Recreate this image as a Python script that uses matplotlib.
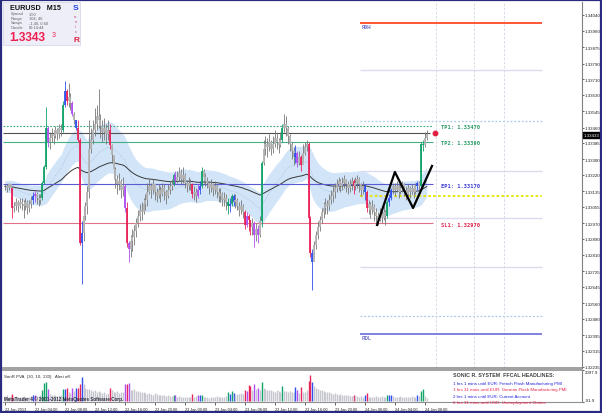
import numpy as np
import pandas as pd
import matplotlib
matplotlib.use("Agg")
import matplotlib.pyplot as plt
from matplotlib.patches import Rectangle

# EURUSD M15, prices in pips above 1.32000 (one bar per 15 minutes, 22 Jan 00:00 onwards)
close_pips = [
    116, 115, 117, 115, 105, 106, 108, 106, 108, 107,
    106, 108, 105, 107, 109, 111, 112, 110, 109, 110,
    118, 126, 146, 139, 141, 143, 142, 145, 143, 146,
    145, 158, 165, 160, 162, 159, 153, 150, 146, 140,
    87, 92, 101, 106, 113, 135, 140, 145, 148, 152,
    150, 147, 144, 146, 143, 145, 137, 132, 125, 120,
    117, 119, 114, 116, 105, 87, 84, 88, 90, 93,
    97, 101, 104, 103, 107, 109, 113, 116, 114, 117,
    113, 111, 114, 112, 115, 113, 111, 114, 116, 117,
    122, 119, 121, 123, 120, 122, 118, 116, 118, 117,
    112, 113, 111, 114, 116, 124, 121, 119, 118, 115,
    117, 114, 116, 113, 111, 112, 109, 110, 108, 106,
    107, 111, 108, 109, 106, 104, 106, 103, 96, 101,
    99, 95, 97, 91, 94, 91, 98, 128, 135, 138,
    136, 139, 135, 138, 141, 139, 137, 140, 146, 148,
    146, 142, 138, 134, 131, 133, 128, 131, 127, 133,
    136, 138, 100, 82, 77, 86, 91, 95, 99, 103,
    105, 107, 106, 109, 111, 113, 115, 117, 119, 116,
    118, 120, 117, 115, 117, 119, 116, 118, 120, 117,
    114, 116, 113, 105, 107, 104, 106, 103, 101, 99,
    102, 100, 103, 101, 108, 110, 114, 116, 114, 116,
    113, 115, 117, 114, 112, 115, 113, 115, 113, 116,
    118, 116, 138, 137, 141, 143,
]
high_pips = [
    117, 117, 118, 117, 115, 108, 110, 109, 110, 110,
    109, 110, 109, 109, 111, 113, 114, 113, 112, 112,
    119, 127, 157, 147, 144, 146, 145, 147, 146, 148,
    148, 160, 170, 166, 169, 164, 160, 154, 150, 150,
    141, 98, 105, 108, 116, 150, 146, 150, 156, 158,
    166, 153, 150, 151, 148, 150, 148, 138, 131, 126,
    122, 123, 120, 121, 117, 108, 88, 91, 94, 96,
    100, 104, 107, 108, 110, 112, 118, 120, 118, 120,
    117, 115, 117, 116, 118, 117, 114, 117, 119, 120,
    123, 124, 124, 126, 125, 126, 123, 119, 121, 120,
    118, 116, 115, 117, 119, 126, 125, 123, 121, 119,
    120, 118, 119, 117, 115, 115, 113, 113, 112, 110,
    110, 112, 112, 112, 110, 108, 109, 107, 104, 103,
    102, 99, 100, 98, 97, 96, 101, 129, 140, 142,
    141, 143, 140, 142, 145, 143, 141, 144, 148, 153,
    152, 147, 143, 139, 136, 137, 134, 134, 132, 138,
    139, 140, 139, 101, 84, 88, 93, 98, 101, 105,
    108, 110, 109, 112, 114, 116, 118, 120, 121, 120,
    121, 122, 120, 119, 120, 121, 120, 121, 122, 121,
    118, 119, 117, 114, 109, 108, 109, 107, 105, 103,
    105, 104, 106, 104, 109, 112, 115, 118, 118, 119,
    117, 118, 119, 118, 116, 117, 116, 117, 116, 118,
    119, 119, 139, 140, 144, 145,
]
low_pips = [
    114, 113, 114, 113, 100, 103, 104, 103, 105, 104,
    100, 104, 102, 103, 105, 107, 108, 107, 106, 107,
    109, 117, 125, 136, 135, 139, 138, 141, 140, 141,
    142, 144, 157, 158, 157, 155, 152, 148, 145, 139,
    86, 66, 88, 99, 102, 110, 133, 138, 142, 145,
    146, 141, 139, 140, 138, 140, 135, 128, 120, 115,
    112, 114, 110, 111, 103, 85, 77, 80, 83, 86,
    90, 95, 98, 99, 102, 104, 106, 112, 110, 112,
    109, 108, 110, 108, 111, 109, 107, 110, 112, 114,
    116, 117, 118, 119, 117, 118, 115, 113, 114, 114,
    110, 109, 108, 110, 112, 115, 118, 116, 115, 112,
    113, 111, 112, 110, 108, 108, 106, 106, 104, 102,
    103, 106, 106, 105, 104, 101, 102, 100, 94, 95,
    93, 91, 91, 85, 88, 87, 90, 95, 127, 132,
    131, 134, 132, 133, 136, 135, 133, 136, 139, 144,
    142, 138, 134, 130, 127, 128, 126, 127, 124, 130,
    132, 134, 99, 80, 63, 79, 84, 89, 93, 97,
    100, 102, 102, 104, 107, 108, 110, 113, 114, 113,
    114, 115, 113, 112, 113, 114, 112, 114, 115, 113,
    111, 112, 109, 103, 102, 100, 102, 98, 97, 96,
    98, 97, 99, 96, 100, 106, 109, 112, 111, 113,
    110, 112, 113, 111, 109, 111, 110, 112, 110, 112,
    114, 114, 115, 134, 136, 140,
]
volumes = [
    350, 420, 280, 350, 480, 260, 300, 220, 280, 240,
    300, 260, 220, 280, 300, 420, 420, 320, 300, 360,
    750, 1230, 1250, 820, 450, 400, 380, 420, 350, 400,
    380, 800, 820, 900, 600, 550, 850, 650, 880, 900,
    1150, 1650, 1150, 900, 780, 820, 700, 640, 720, 600,
    680, 560, 520, 600, 480, 520, 900, 700, 620, 580,
    650, 540, 600, 560, 1150, 1150, 1230, 760, 700, 820,
    640, 680, 600, 560, 620, 520, 480, 540, 460, 420,
    500, 440, 400, 380, 420, 360, 340, 380, 320, 300,
    380, 360, 280, 300, 260, 280, 240, 260, 220, 240,
    480, 260, 300, 380, 400, 420, 220, 260, 240, 200,
    280, 220, 260, 300, 240, 280, 220, 260, 300, 600,
    480, 680, 550, 420, 480, 440, 500, 460, 700, 650,
    1070, 1000, 700, 1150, 800, 900, 760, 1280, 900, 820,
    760, 700, 740, 680, 620, 700, 640, 600, 1000, 680,
    640, 600, 660, 560, 600, 940, 700, 540, 950, 620,
    580, 700, 1350, 1750, 1300, 1000, 900, 820, 760, 700,
    640, 600, 560, 620, 520, 480, 500, 440, 420, 460,
    400, 380, 360, 400, 340, 320, 400, 300, 340, 280,
    300, 260, 360, 520, 280, 240, 260, 240, 300, 280,
    260, 300, 240, 280, 420, 400, 420, 300, 260, 280,
    240, 300, 260, 280, 240, 260, 280, 300, 260, 280,
    420, 300, 680, 780, 300, 200,
]
# PVA colouring of bars (n=green climax up, r=red climax down, b=blue, p=violet)
pva_marks = {4: 'r', 15: 'b', 16: 'p', 20: 'n', 21: 'n', 22: 'n', 23: 'p', 31: 'n', 32: 'b',
             33: 'r', 36: 'p', 38: 'b', 39: 'r', 40: 'r', 41: 'b', 56: 'r', 64: 'p', 65: 'r',
             66: 'p', 90: 'n', 91: 'p', 100: 'r', 103: 'p', 104: 'b', 105: 'n', 119: 'n',
             120: 'b', 121: 'n', 122: 'b', 128: 'r', 129: 'p', 130: 'r', 131: 'r', 133: 'p',
             135: 'p', 137: 'n', 148: 'n', 155: 'b', 156: 'p', 158: 'r', 162: 'r', 163: 'r',
             164: 'b', 186: 'r', 192: 'b', 193: 'r', 204: 'n', 205: 'b', 206: 'b', 220: 'b',
             222: 'n', 223: 'n'}

time_labels = ["22 Jan 2013", "22 Jan 04:00", "22 Jan 08:00", "22 Jan 12:00", "22 Jan 16:00",
               "22 Jan 20:00", "23 Jan 00:00", "23 Jan 04:00", "23 Jan 08:00", "23 Jan 12:00",
               "23 Jan 16:00", "23 Jan 20:00", "24 Jan 00:00", "24 Jan 04:00", "24 Jan 08:00"]
price_ticks = [1.34040, 1.33960, 1.33875, 1.33790, 1.33710, 1.33630, 1.33545, 1.33460,
               1.33385, 1.33300, 1.33220, 1.33135, 1.33055, 1.32970, 1.32890, 1.32810,
               1.32725, 1.32645, 1.32560, 1.32480, 1.32395, 1.32315, 1.32235]

# trade levels
tp1, tp2, ep1, sl1 = 1.33470, 1.33390, 1.33170, 1.32970
bid = 1.33433
yellow_level = 1.33110
# daily pivot style levels on the right side
r0h = 1.33999
rdl = 1.32402
faint_levels = [1.33758, 1.33239, 1.32998, 1.32746]
dotted_levels = [1.33496, 1.32495]
event_bars = [230, 250, 266]
# drawn zigzag pattern (bar index, price)
zig_bars = [198.5, 208, 217.7, 227.8]
zig_prices = [1.32962, 1.33234, 1.33049, 1.33265]

headlines = [("1 hrs 1 mins until EUR: French Flash Manufacturing PMI", "#2020e0"),
             ("1 hrs 31 mins until EUR: German Flash Manufacturing PMI", "#e8204a"),
             ("2 hrs 1 mins until EUR: Current Account", "#2020e0"),
             ("6 hrs 31 mins until USD: Unemployment Claims", "#e8204a")]

pva_colors = {'g': '#b4b4b4', 'r': '#e8245a', 'n': '#12a46a', 'b': '#3050f0', 'p': '#b050f0'}

close = 1.32 + np.array(close_pips) / 10000
high = 1.32 + np.array(high_pips) / 10000
low = 1.32 + np.array(low_pips) / 10000
opens = np.concatenate([[close[0]], close[:-1]])
idx = np.arange(len(close))
codes = [pva_marks.get(i, 'g') for i in idx]
body_cols = [pva_colors[c] for c in codes]
wick_cols = ['#767676' if c == 'g' else pva_colors[c] for c in codes]
vol_cols = ['#c6c6d0' if c == 'g' else pva_colors[c] for c in codes]

# Sonic R dragon band and trend line
ema34 = pd.Series(close).ewm(span=34, adjust=False).mean()
emaH = pd.Series(high).ewm(span=34, adjust=False).mean()
emaL = pd.Series(low).ewm(span=34, adjust=False).mean()
ema89 = pd.Series(close).ewm(span=89, adjust=False).mean()
half = emaH - emaL

W, H = 602, 414
fig = plt.figure(figsize=(W / 100, H / 100), dpi=100)
fig.patch.set_facecolor('white')
sans = 'Liberation Sans'

def fx(x):
    return x / W

def fy(y):
    return 1 - y / H

ax = fig.add_axes([fx(3), fy(369), fx(579), 366 / H])
ax2 = fig.add_axes([fx(3), fy(403), fx(579), 32 / H])

xmin, xmax = -1, 307.8
ax.set_xlim(xmin, xmax)
ax.set_ylim(1.322277, 1.341067)

# band + moving averages
ax.fill_between(idx, ema34 - half, ema34 + half, color='#d2e5f8', lw=0, zorder=1)
ax.plot(idx, ema34, color='#9ab4d4', lw=0.5, ls=':', zorder=2)
ax.plot(idx, ema89, color='#383838', lw=0.7, zorder=2)

# trade levels across the chart
last = 228.5
ax.hlines(tp1, xmin, last, color='#30a878', lw=0.8, ls=(0, (1.5, 1.5)), zorder=3)
ax.hlines(bid, xmin, last - 1.5, color='#505050', lw=0.8, zorder=3)
ax.hlines(tp2, xmin, last, color='#46b084', lw=0.8, zorder=3)
ax.hlines(ep1, xmin, last, color='#5a5ad2', lw=0.8, zorder=3)
ax.hlines(sl1, xmin, last, color='#e07088', lw=0.8, zorder=3)

# right side pivot levels
p0, p1 = 189.5, 286.5
ax.hlines(r0h, p0, p1, color='#ff5535', lw=1.4, zorder=3)
ax.hlines(rdl, p0, p1, color='#8080e0', lw=1.4, zorder=3)
for lv in faint_levels:
    ax.hlines(lv, p0, p1, color='#dcdcf0', lw=1.0, zorder=1)
for lv in dotted_levels:
    ax.hlines(lv, p0, p1, color='#a8c8ec', lw=0.9, ls=(0, (1.5, 1.5)), zorder=1)
ax.hlines(yellow_level, p0, p1, color='#e6e600', lw=1.3, ls=(0, (1.5, 1.2)), zorder=3)
ax.text(p0 + 1, r0h - 0.00006, "R0H", color='#6a6ac8', fontsize=3.4, va='top',
        fontweight='bold', family=sans)
ax.text(p0 + 1, rdl - 0.00006, "RDL", color='#6a6ac8', fontsize=3.4, va='top',
        fontweight='bold', family=sans)

for eb in event_bars:
    ax.axvline(eb, color='#d0d6e4', lw=0.6, ls=(0, (3, 2)), zorder=1)

# candles
ax.vlines(idx, low, high, colors=wick_cols, lw=0.6, zorder=4)
ax.vlines(idx, opens, close, colors=body_cols, lw=1.3, zorder=4)

# zigzag pattern and signal dot
ax.plot(zig_bars, zig_prices, color='black', lw=1.6, zorder=5)
ax.plot([229.5], [bid], 'o', color='#e02040', ms=3.2, zorder=6)

lab_x = 232.5
mono = 'DejaVu Sans Mono'
ax.text(lab_x, tp1 - 0.00003, "TP1: 1.33470", color='#2a9a64', fontsize=3.9, family=mono,
        fontweight='bold', va='center')
ax.text(lab_x, tp2 - 0.00006, "TP2: 1.33390", color='#2a9a64', fontsize=3.9, family=mono,
        fontweight='bold', va='center')
ax.text(lab_x, ep1 - 0.00006, "EP1: 1.33170", color='#3a3ad0', fontsize=3.9, family=mono,
        fontweight='bold', va='center')
ax.text(lab_x, sl1 - 0.00008, "SL1: 1.32970", color='#e0204a', fontsize=3.9, family=mono,
        fontweight='bold', va='center')

# axes styling
for a in (ax, ax2):
    for side in ('left', 'top'):
        a.spines[side].set_visible(False)
    a.spines['right'].set_color('#808080')
    a.spines['bottom'].set_color('#909090')
    a.spines['right'].set_linewidth(0.8)
ax2.spines['top'].set_visible(True)
ax2.spines['top'].set_color('#909090')
ax2.spines['top'].set_linewidth(1.2)
ax.spines['bottom'].set_linewidth(1.2)

ax.set_yticks(price_ticks)
ax.set_yticklabels([f"{p:.5f}" for p in price_ticks], family=sans)
ax.tick_params(axis='y', left=False, labelleft=False, right=True, labelright=True,
               labelsize=3.2, length=1.5, width=0.5, pad=0.6, colors='#202020')
ax.tick_params(axis='x', bottom=False, labelbottom=False)

# price box on the axis
fig.text(fx(584), fy(136), f"{bid:.5f}", fontsize=3.2, color='white', va='center', ha='left',
         family=sans, bbox=dict(boxstyle='square,pad=0.2', fc='black', ec='black'))

# volume pane
ax2.set_xlim(xmin, xmax)
ax2.set_ylim(-91.9, 2097.9)
ax2.vlines(idx, 0, volumes, colors=vol_cols, lw=1.0)
ax2.set_yticks([2097.9, -91.9])
ax2.set_yticklabels(["2097.9", "-91.9"], family=sans)
ax2.tick_params(axis='y', left=False, labelleft=False, right=True, labelright=True,
                labelsize=3.2, length=1.5, width=0.5, pad=0.6, colors='#202020')
tl = ax2.get_yticklabels()
tl[0].set_va('top')
tl[1].set_va('bottom')
ax2.set_xticks(np.arange(len(time_labels)) * 16)
ax2.set_xticklabels(time_labels, ha='left', family=sans)
ax2.tick_params(axis='x', labelsize=2.8, length=2, width=0.5, pad=1.3, colors='#202020')
ax2.text(0.002, 0.86, "SonR PVA  (30, 10, 130)   Alert off.", transform=ax2.transAxes,
         fontsize=3.2, color='#303030', va='top', family=sans)
ax2.text(0.002, 0.03, "MetaTrader 4 © 2001-2012 MetaQuotes Software Corp.",
         transform=ax2.transAxes, fontsize=3.3, color='#303040', va='bottom',
         fontweight='bold', family=sans)

fig.text(fx(453), fy(376), "SONIC R. SYSTEM  FFCAL HEADLINES:", fontsize=3.8, color='#404040',
         fontweight='bold', va='center', family=sans)
for k, (txt, col) in enumerate(headlines):
    fig.text(fx(453), fy(384 + k * 6.3), txt, fontsize=3.2, color=col, va='center', family=sans)

# info box top-left
fig.patches.append(Rectangle((fx(3), fy(46)), fx(77), 43 / H, transform=fig.transFigure,
                             fc='#eeeef8', ec='#d8d8e8', lw=0.6, zorder=5))
fig.text(fx(10), fy(8), "EURUSD   M15", fontsize=5.2, fontweight='bold', color='#101010',
         va='center', zorder=6, family=sans)
info = [("Spread", "1.50"), ("Range", "104, 46"), ("Swaps", "-1.40, 0.60"), ("Candle", "00:14:44")]
for k, (a, b) in enumerate(info):
    fig.text(fx(11), fy(14.5 + k * 4.4), a, fontsize=2.9, color='#606060', va='center',
             zorder=6, family=sans)
    fig.text(fx(29), fy(14.5 + k * 4.4), b, fontsize=2.9, color='#606060', va='center',
             zorder=6, family=sans)
fig.text(fx(9), fy(38), "1.3343", fontsize=8.6, fontweight='bold', color='#ee2050',
         va='center', zorder=6, family=sans)
fig.text(fx(52), fy(36), "3", fontsize=5, color='#ee2050', va='center', zorder=6, family=sans)
fig.text(fx(73), fy(8), "S", fontsize=6, fontweight='bold', color='#2040e0', va='center',
         zorder=6, family=sans)
for k, ch in enumerate("onic"):
    fig.text(fx(75.5), fy(17.5 + k * 4.8), ch, fontsize=3.2, color='#c04080', va='center',
             ha='center', zorder=6, family=sans)
fig.text(fx(73), fy(40), "R", fontsize=6, fontweight='bold', color='#e02040', va='center',
         zorder=6, family=sans)

# window frame
fig.patches.append(Rectangle((0.0015, 0.002), 0.997, 0.996, transform=fig.transFigure,
                             fill=False, ec='#2a2a80', lw=1.6, zorder=10))

fig.savefig("out.png", dpi=100, facecolor='white')
